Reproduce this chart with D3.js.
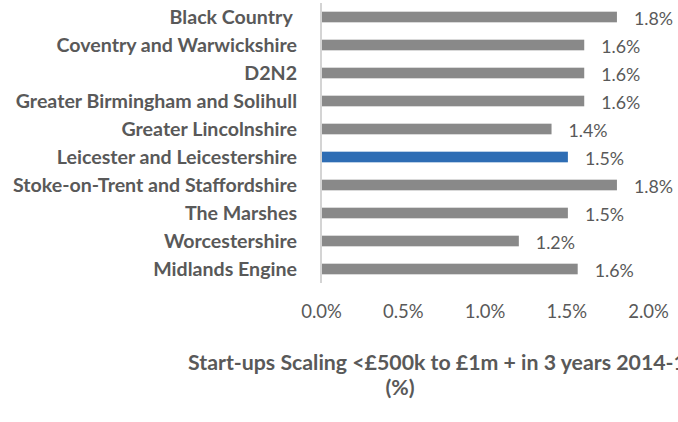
<!DOCTYPE html>
<html>
<head>
<meta charset="utf-8">
<script src="https://cdn.jsdelivr.net/npm/d3@7"></script>
<style>
  body { margin: 0; background: #fff; }
  svg { display: block; }
  text { font-family: Lato, "Open Sans", sans-serif; }
</style>
</head>
<body>
<script>
// data
const categories = [
  "Black Country ",
  "Coventry and Warwickshire",
  "D2N2",
  "Greater Birmingham and Solihull",
  "Greater Lincolnshire",
  "Leicester and Leicestershire",
  "Stoke-on-Trent and Staffordshire",
  "The Marshes",
  "Worcestershire",
  "Midlands Engine"
];
const values = [1.81, 1.61, 1.61, 1.61, 1.41, 1.51, 1.81, 1.51, 1.21, 1.57];
const labels = ["1.8%", "1.6%", "1.6%", "1.6%", "1.4%", "1.5%", "1.8%", "1.5%", "1.2%", "1.6%"];
const highlight = "Leicester and Leicestershire";
const xTicks = [0, 0.5, 1.0, 1.5, 2.0];
const titleLines = ["Start-ups Scaling <£500k to £1m + in 3 years 2014-17", "(%)"];

const data = categories.map((c, i) => ({ cat: c, value: values[i], label: labels[i] }));

const width = 678, height = 422;
const textColor = "#595959";

const svg = d3.select("body").append("svg")
    .attr("width", width)
    .attr("height", height);

// scales
const x = d3.scaleLinear()
    .domain([0, 2.0])
    .range([321, 648]);

const y = d3.scaleBand()
    .domain(categories)
    .range([3, 283])
    .paddingInner(0.62)
    .paddingOuter(0.31);

// bars
svg.selectAll(".bar")
    .data(data)
    .enter().append("rect")
    .attr("class", "bar")
    .attr("x", x(0))
    .attr("y", d => y(d.cat))
    .attr("width", d => x(d.value) - x(0))
    .attr("height", y.bandwidth())
    .attr("fill", d => d.cat === highlight ? "#2e6db4" : "#898989");

// vertical axis line
svg.append("line")
    .attr("x1", x(0)).attr("x2", x(0))
    .attr("y1", y.range()[0]).attr("y2", y.range()[1])
    .attr("stroke", "#d4d4d4")
    .attr("stroke-width", 2);

// category labels
svg.selectAll(".cat")
    .data(data)
    .enter().append("text")
    .attr("class", "cat")
    .attr("x", 297)
    .attr("y", d => y(d.cat) + y.bandwidth() / 2)
    .attr("dy", "0.35em")
    .attr("text-anchor", "end")
    .style("white-space", "pre")
    .style("font-weight", "bold")
    .style("font-size", "19.6px")
    .attr("fill", textColor)
    .text(d => d.cat);

// value labels
svg.selectAll(".val")
    .data(data)
    .enter().append("text")
    .attr("class", "val")
    .attr("x", d => x(d.value) + 17)
    .attr("y", d => y(d.cat) + y.bandwidth() / 2 + 2)
    .attr("dy", "0.35em")
    .style("font-size", "17.8px")
    .attr("fill", textColor)
    .text(d => d.label);

// x axis (ticks only)
const xAxis = svg.append("g")
    .attr("transform", "translate(0,312)")
    .call(d3.axisBottom(x).tickValues(xTicks).tickSize(0).tickFormat(d => d.toFixed(1) + "%"));
xAxis.select(".domain").remove();
xAxis.selectAll("text")
    .attr("y", 0)
    .attr("dy", "0.35em")
    .style("font-family", "Lato, sans-serif")
    .style("font-size", "18.5px")
    .attr("fill", textColor);

// title (first line runs off the right edge, as in the original)
svg.append("text")
    .attr("x", 188)
    .attr("y", 370)
    .style("font-weight", "bold")
    .style("font-size", "21.3px")
    .attr("fill", textColor)
    .text(titleLines[0]);

svg.append("text")
    .attr("x", 400)
    .attr("y", 395)
    .attr("text-anchor", "middle")
    .style("font-weight", "bold")
    .style("font-size", "21.3px")
    .attr("fill", textColor)
    .text(titleLines[1]);
</script>
</body>
</html>
